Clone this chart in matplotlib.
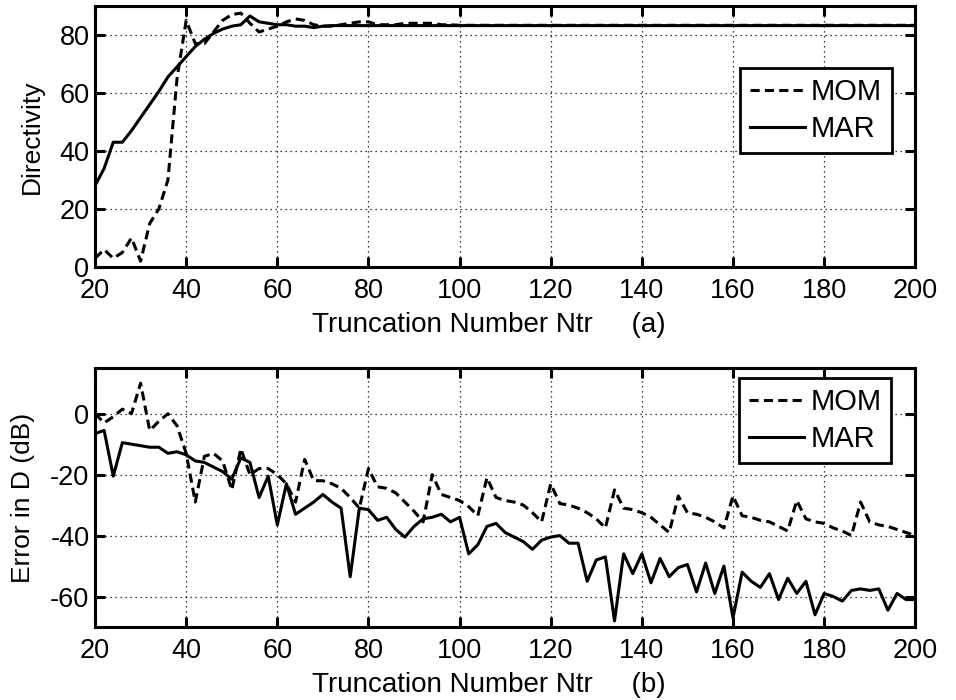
import numpy as np
import matplotlib
matplotlib.use('Agg')
import matplotlib.pyplot as plt

plt.rcParams['font.family'] = ['Liberation Sans', 'DejaVu Sans']
plt.rcParams['axes.unicode_minus'] = False

ntr = np.arange(20, 201, 2)

# directivity (a)
mom_d = [3, 6, 3, 5, 10, 2, 15, 20, 30, 65,
         85, 77, 77, 81, 85, 87, 87.5, 84, 81, 82,
         83, 84.5, 85.5, 85, 83.5, 83, 83, 83.5, 84, 84.5,
         84.5, 83.5, 83.5, 83.5, 84, 84, 84, 84, 83.5, 83.5] + [83.3] * 51
mar_d = [28, 34, 43, 43, 47, 51.5, 56, 60.5, 65.5, 69,
         72.5, 76, 78.5, 80.5, 82, 83, 83.5, 86.5, 84.5, 84,
         83.5, 83.5, 83, 83, 82.5, 83] + [83.2] * 65

# error in D (b)
mom_e = [0, -3, -1, 1.5, 0, 10, -5.5, -2.5, 0, -4,
         -13, -29, -14, -13, -15.5, -25, -11.5, -20, -18, -18,
         -20, -23, -29, -15, -22, -22, -23, -24.5, -27.5, -31,
         -18, -24, -24.5, -26, -29, -32, -35.5, -20, -26.5, -27.5,
         -28.5, -30.5, -33.5, -21, -27.5, -28.5, -29, -30, -32.5, -35.5,
         -23, -29.5, -30, -31, -32.5, -34.5, -37.5, -25, -31, -31.5,
         -32.5, -34, -36.5, -39, -27, -32.5, -33, -34, -35.5, -37.5,
         -27, -33.5, -34, -35, -35.5, -37, -38.5, -28.5, -34.5, -35.5,
         -36, -37.5, -38.5, -40, -29, -35.5, -36.5, -37, -38, -39,
         -40]
mar_e = [-6.5, -5.5, -20.5, -9.5, -10, -10.5, -11, -11, -13, -12.5,
         -13.5, -15.5, -16, -17.5, -19, -21.5, -14.5, -16, -27.5, -20.5,
         -36.5, -23, -33, -31, -29, -26.5, -29, -31, -53.5, -31,
         -31.5, -35, -34, -38, -40.5, -37, -34.5, -34, -33, -35.5,
         -34, -46, -43, -37, -36, -39, -40.5, -42, -44.5, -41.5,
         -40.5, -40, -42.5, -42.5, -55, -48, -47, -68, -46, -52.5,
         -46, -55.5, -47.5, -53.5, -50.5, -49.5, -58.5, -49, -59, -50,
         -67, -52, -55, -57, -52.5, -61, -54, -59, -55, -66,
         -59, -60, -61.5, -58, -57.5, -58, -57.5, -64.5, -59, -61,
         -61]

fig = plt.figure(figsize=(9.56, 7), dpi=100)
ax1 = fig.add_axes([0.0994, 0.6186, 0.858, 0.373])
ax2 = fig.add_axes([0.0994, 0.1043, 0.858, 0.370])


def style(ax):
    ax.grid(True, color='black', linestyle=(0, (1, 3)), linewidth=0.9)
    for s in ax.spines.values():
        s.set_linewidth(2.2)
    ax.tick_params(axis='both', direction='in', length=7, width=2.2,
                   top=True, right=True, labelsize=19.5)
    ax.tick_params(axis='x', pad=8)
    ax.tick_params(axis='y', pad=4)
    ax.set_xlim(20, 200)
    ax.set_xticks(range(20, 201, 20))


def legend(ax, anchor):
    leg = ax.legend(loc='upper right', bbox_to_anchor=anchor, fontsize=21,
                    frameon=True, fancybox=False, framealpha=1,
                    handlelength=1.9, handletextpad=0.2, borderpad=0.35,
                    labelspacing=0.3, borderaxespad=0)
    leg.get_frame().set_edgecolor('black')
    leg.get_frame().set_linewidth(2)


ax1.plot(ntr, mom_d, 'k', linestyle=(0, (3, 1.7)), lw=2.2, label='MOM')
ax1.plot(ntr, mar_d, 'k-', lw=2.2, label='MAR')
style(ax1)
ax1.set_ylim(0, 90)
ax1.set_yticks(range(0, 81, 20))
ax1.set_xlabel('Truncation Number Ntr     (a)', fontsize=20, labelpad=6)
ax1.xaxis.label.set_x(0.48)
ax1.set_ylabel('Directivity', fontsize=19, labelpad=11)
legend(ax1, (0.972, 0.762))

ax2.plot(ntr, mom_e, 'k', linestyle=(0, (3, 1.7)), lw=2.2, label='MOM')
ax2.plot(ntr, mar_e, 'k-', lw=2.2, label='MAR')
style(ax2)
ax2.set_ylim(-70, 15)
ax2.set_yticks(range(-60, 1, 20))
ax2.set_xlabel('Truncation Number Ntr     (b)', fontsize=20, labelpad=6)
ax2.xaxis.label.set_x(0.48)
ax2.set_ylabel('Error in D (dB)', fontsize=19, labelpad=11)
legend(ax2, (0.971, 0.961))

fig.savefig('out.png', dpi=100)
